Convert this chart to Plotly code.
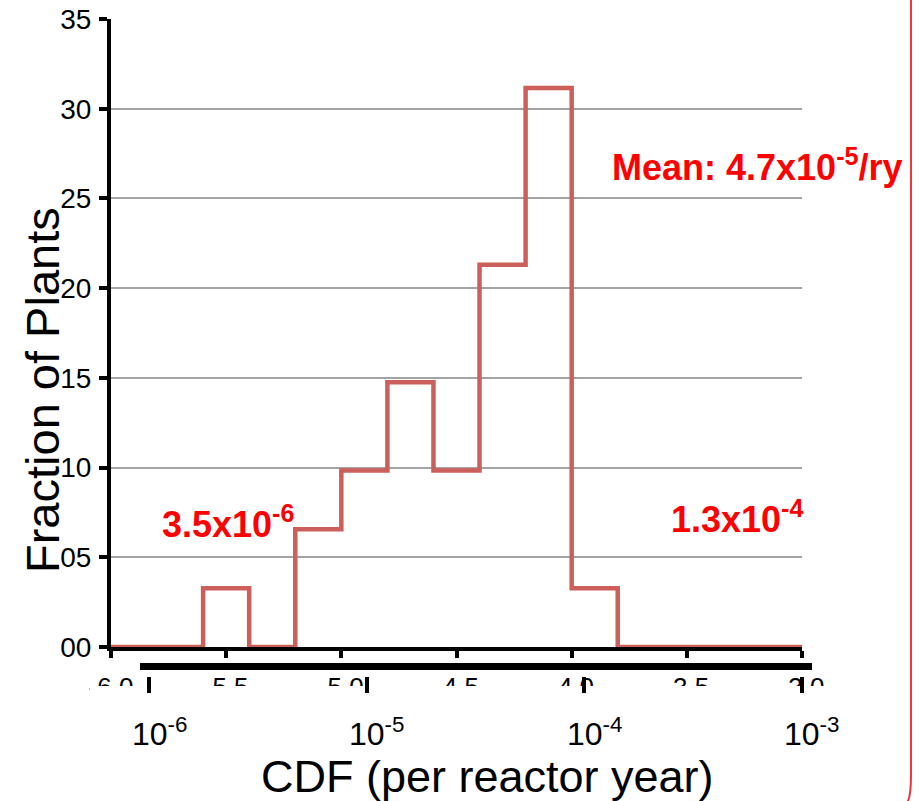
import plotly.graph_objects as go

# Data: log10(CDF) bin edges and fraction of plants (%) per bin
bin_edges = [-6.0, -5.6, -5.4, -5.2, -5.0, -4.8, -4.6, -4.4, -4.2, -4.0, -3.8, -3.0]
fractions = [0.0, 3.28, 0.0, 6.56, 9.84, 14.75, 9.84, 21.31, 31.15, 3.28, 0.0]

x_tickvals = [-6.0, -5.5, -5.0, -4.5, -4.0, -3.5, -3.0]
x_ticktext = ["-6.0", "-5.5", "-5.0", "-4.5", "-4.0", "-3.5", "-3.0"]
y_tickvals = [0, 5, 10, 15, 20, 25, 30, 35]
y_ticktext = ["00", "05", "10", "15", "20", "25", "30", "35"]
decade_labels = ["10<sup>-6</sup>", "10<sup>-5</sup>", "10<sup>-4</sup>", "10<sup>-3</sup>"]

W, H = 919, 801
L, R, T, B = 111, 117, 19, 154
PW, PH = W - L - R, H - T - B

def px(x):
    return (x - L) / PW

def py(y):
    return (H - B - y) / PH

FONT = "Liberation Sans, Arial, sans-serif"
RED = "#ff0000"
LINE = "#cd5f5a"

step_x = bin_edges
step_y = fractions + [fractions[-1]]

fig = go.Figure()
fig.add_trace(go.Scatter(
    x=step_x, y=step_y, mode="lines", line=dict(color=LINE, width=4.5, shape="hv"),
    cliponaxis=False, showlegend=False, hoverinfo="skip"))

fig.update_layout(
    width=W, height=H, margin=dict(l=L, r=R, t=T, b=B, autoexpand=False),
    paper_bgcolor="white", plot_bgcolor="white",
    font=dict(family=FONT, color="black"),
    showlegend=False,
)
fig.update_xaxes(
    range=[-6, -3], tickvals=x_tickvals, ticktext=x_ticktext, automargin=False,
    showgrid=False, zeroline=False, showline=True, linecolor="black", linewidth=4,
    ticks="outside", ticklen=7, tickwidth=4, tickcolor="black",
    tickfont=dict(size=26, family=FONT), ticklabelstandoff=7,
)
fig.update_yaxes(
    range=[0, 35], tickvals=y_tickvals, ticktext=y_ticktext, automargin=False,
    showgrid=True, gridcolor="#a3a3a3", gridwidth=2, zeroline=False,
    showline=True, linecolor="black", linewidth=4,
    ticks="outside", ticklen=8, tickwidth=4, tickcolor="black",
    tickfont=dict(size=28, family=FONT), ticklabelstandoff=2,
)

shapes = []
# white box hiding lower half of log tick labels
shapes.append(dict(type="rect", xref="paper", yref="paper",
                   x0=px(90), x1=px(830), y0=py(702), y1=py(686),
                   fillcolor="white", line=dict(width=0), layer="above"))
# black bar below axis
shapes.append(dict(type="rect", xref="paper", yref="paper",
                   x0=px(140), x1=px(812), y0=py(670), y1=py(663),
                   fillcolor="black", line=dict(width=0), layer="above"))
# decade tick marks
for xp in [149, 367, 584, 802]:
    shapes.append(dict(type="line", xref="paper", yref="paper",
                       x0=px(xp), x1=px(xp), y0=py(677), y1=py(693),
                       line=dict(color="black", width=4), layer="above"))
# red frame edge at right
path = "M {0},{1} L {0},{2} Q {0},{3} {4},{5}".format(
    px(911), py(-2), py(775), py(797), px(907), py(803))
shapes.append(dict(type="path", xref="paper", yref="paper", path=path,
                   line=dict(color="#e8383a", width=2), layer="above"))
fig.update_layout(shapes=shapes)

annotations = []
for lbl, xc in zip(decade_labels, [160, 377, 595, 812]):
    annotations.append(dict(text=lbl, xref="paper", yref="paper", x=px(xc), y=py(732),
                            xanchor="center", yanchor="middle", showarrow=False,
                            font=dict(size=32, family=FONT, color="black")))
annotations.append(dict(text="CDF (per reactor year)", xref="paper", yref="paper",
                        x=px(488), y=py(776), xanchor="center", yanchor="middle",
                        showarrow=False, font=dict(size=45, family=FONT, color="black")))
annotations.append(dict(text="Fraction of Plants", xref="paper", yref="paper",
                        x=px(42), y=py(390), xanchor="center", yanchor="middle",
                        textangle=-90, showarrow=False,
                        font=dict(size=47, family=FONT, color="black")))
annotations.append(dict(text="<b>Mean: 4.7x10<sup>-5</sup>/ry</b>", xref="paper", yref="paper",
                        x=px(610), y=py(165), xanchor="left", yanchor="middle",
                        showarrow=False, font=dict(size=36, family=FONT, color=RED)))
annotations.append(dict(text="<b>3.5x10<sup>-6</sup></b>", xref="paper", yref="paper",
                        x=px(160), y=py(522), xanchor="left", yanchor="middle",
                        showarrow=False, font=dict(size=36, family=FONT, color=RED)))
annotations.append(dict(text="<b>1.3x10<sup>-4</sup></b>", xref="paper", yref="paper",
                        x=px(669), y=py(517), xanchor="left", yanchor="middle",
                        showarrow=False, font=dict(size=36, family=FONT, color=RED)))
fig.update_layout(annotations=annotations)

fig.write_html("out.html")
